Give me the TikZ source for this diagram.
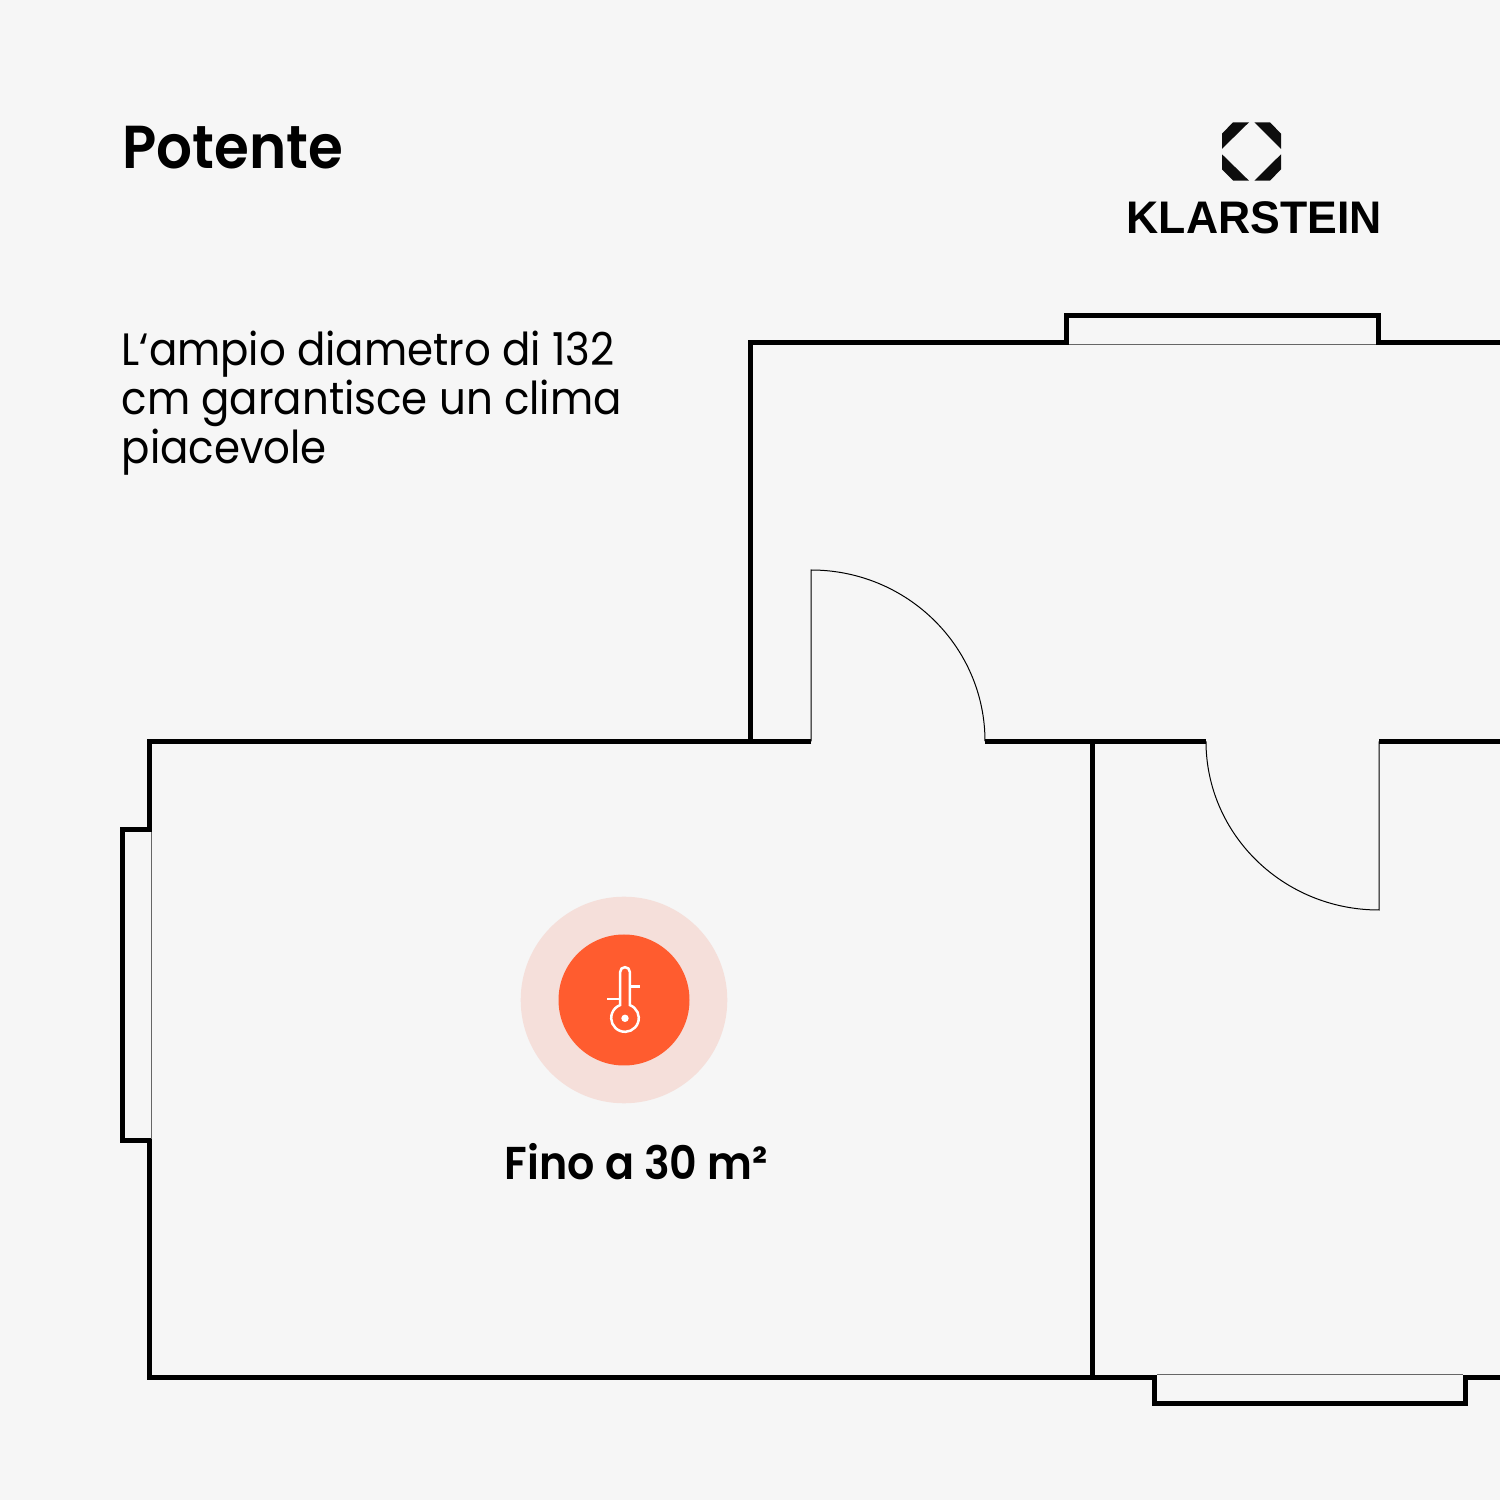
\documentclass[tikz,border=0pt]{standalone}
\usepackage{fontspec}
\setmainfont{Poppins}
\newfontfamily\medfont[FakeStretch=0.93]{Poppins SemiBold}
\newfontfamily\bodyfont[FakeStretch=0.925]{Poppins}
\newfontfamily\logofont[FakeStretch=0.975]{Liberation Sans}
\definecolor{pagegrey}{HTML}{F6F6F6}
\definecolor{heatorange}{HTML}{FF5C2F}
\definecolor{heatpale}{HTML}{F5DFDA}
\tikzset{
	wall/.style={draw=black, line width=0.05cm, miter limit=10},
	thinline/.style={draw=black, line width=0.01cm},
	glassline/.style={draw=black!60, line width=0.01cm},
	thermo/.style={draw=white, line width=0.025cm},
	logopiece/.style={fill=black!95},
}
\begin{document}
\begin{tikzpicture}
		\useasboundingbox (0,0) rectangle (15,15);
		\fill[pagegrey] (0,0) rectangle (15,15);
		\draw[wall] (15,11.572) -- (13.78,11.572) -- (13.78,11.84) -- (10.665,11.84) -- (10.665,11.572) -- (7.505,11.572) -- (7.505,7.587) -- (8.11,7.587);
		\draw[wall] (8.11,7.587) -- (1.492,7.587) -- (1.492,6.70) -- (1.225,6.70) -- (1.225,3.59) -- (1.492,3.59) -- (1.492,1.228) -- (11.545,1.228) -- (11.545,0.962) -- (14.658,0.962) -- (14.658,1.228) -- (15,1.228);
		\draw[wall] (9.85,7.587) -- (12.06,7.587);
		\draw[wall] (13.79,7.587) -- (15,7.587);
		\draw[wall] (10.925,7.587) -- (10.925,1.228);
		\draw[glassline] (10.69,11.555) -- (13.76,11.555);
		\draw[glassline] (1.517,6.68) -- (1.517,3.61);
		\draw[glassline] (11.57,1.25) -- (14.63,1.25);
		\draw[thinline] (8.11,7.587) -- (8.11,9.30) arc[start angle=90, end angle=0, x radius=1.74, y radius=1.713];
		\draw[thinline] (13.79,7.587) -- (13.79,5.90) arc[start angle=270, end angle=180, x radius=1.73, y radius=1.687];
		\fill[heatpale] (6.24,5.0) circle[radius=1.033];
		\fill[heatorange] (6.24,5.0) circle[radius=0.655];
		\draw[thermo] (6.2015,5.28) arc[start angle=180, end angle=0, radius=0.0485] -- (6.2985,4.949) arc[start angle=69.4, end angle=-249.4, radius=0.138] -- cycle;
		\draw[thermo] (6.2985,5.137) -- (6.40,5.137);
		\draw[thermo] (6.07,5.01) -- (6.2015,5.01);
		\fill[white] (6.25,4.817) circle[radius=0.037];
		\fill[logopiece] (12.333,13.623) -- (12.49,13.777) -- (12.33,13.777) -- (12.22,13.663) -- (12.22,13.51) -- cycle;
		\fill[logopiece] (12.543,13.777) -- (12.70,13.777) -- (12.81,13.663) -- (12.81,13.51) -- cycle;
		\fill[logopiece] (12.22,13.457) -- (12.49,13.193) -- (12.333,13.193) -- (12.22,13.307) -- cycle;
		\fill[logopiece] (12.81,13.457) -- (12.81,13.307) -- (12.70,13.193) -- (12.543,13.193) -- cycle;
		\node[anchor=base west, inner sep=0pt, font=\medfont\fontsize{17.25pt}{20pt}\selectfont] (title) at (1.22,13.315) {Potente};
		\node[anchor=base west, inner sep=0pt, align=left, font=\bodyfont\fontsize{12.9pt}{14pt}\selectfont] (subtitle) at (1.21,10.36) {L‘ampio diametro di 132\\cm garantisce un clima\\piacevole};
		\node[anchor=base west, inner sep=0pt, font=\logofont\bfseries\fontsize{13pt}{15pt}\selectfont] (brand) at (11.26,12.66) {KLARSTEIN};
		\node[anchor=base west, inner sep=0pt, font=\medfont\fontsize{13.1pt}{15pt}\selectfont] (area) at (5.04,3.207) {Fino a 30 m²};
	\end{tikzpicture}
\end{document}
